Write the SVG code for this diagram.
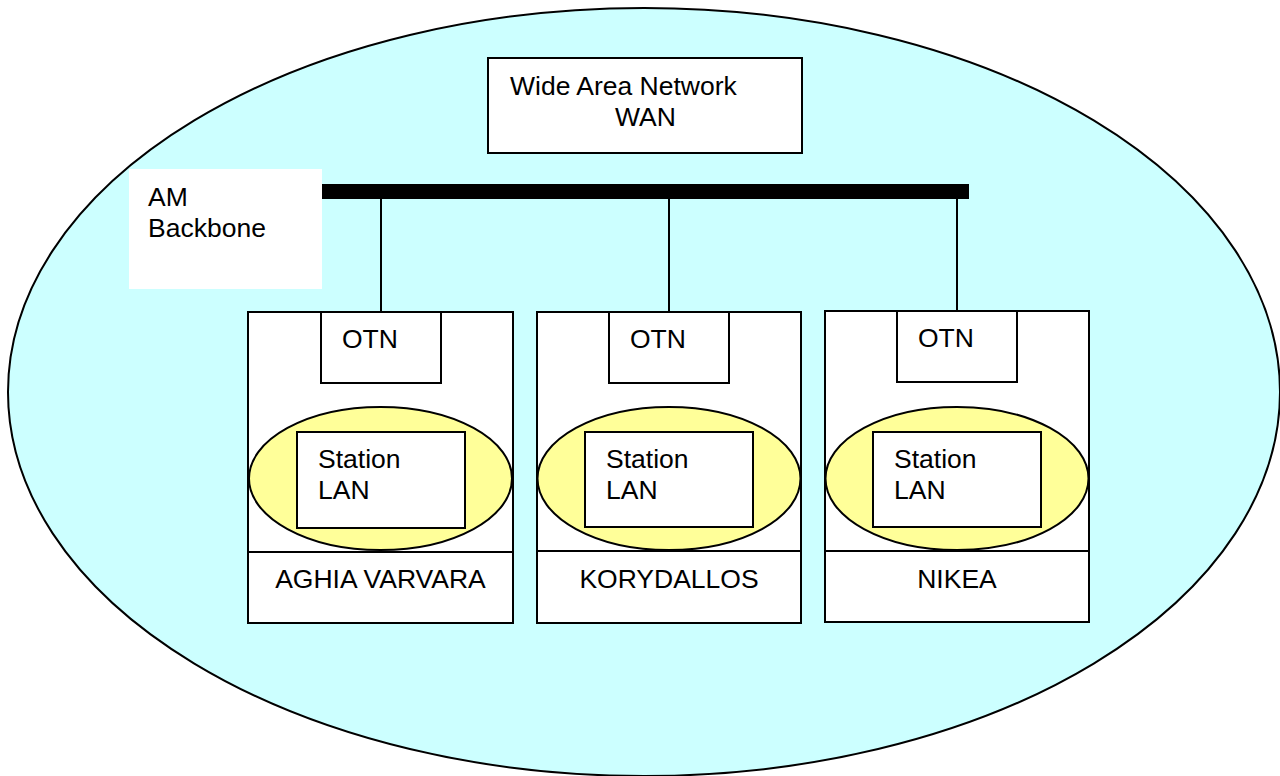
<svg xmlns="http://www.w3.org/2000/svg" width="1280" height="776" viewBox="0 0 1280 776">
<style>
text{font-family:"Liberation Sans",Arial,sans-serif;font-size:26.5px;fill:#000}
.box{fill:#fff;stroke:#000;stroke-width:2}
.lan{fill:#FFFF99;stroke:#000;stroke-width:2}
.ln{stroke:#000;stroke-width:2;fill:none}
.mid{text-anchor:middle}
</style>
<rect width="1280" height="776" fill="#fff"/>
<g id="network">
<ellipse cx="644" cy="392" rx="636" ry="384" fill="#CCFFFF" stroke="#000" stroke-width="2"/>
</g>
<g id="wan">
<rect class="box" x="488" y="58" width="314" height="95"/>
<text x="510" y="95">Wide Area Network</text>
<text x="615" y="126">WAN</text>
</g>
<g id="backbone-label">
<rect x="129" y="169" width="193" height="120" fill="#fff"/>
<text x="148" y="206">AM</text>
<text x="148" y="237">Backbone</text>
</g>
<g id="connectors">
<rect x="322" y="184" width="647" height="15" fill="#000"/>
<line class="ln" x1="381" y1="199" x2="381" y2="312"/>
<line class="ln" x1="669" y1="199" x2="669" y2="312"/>
<line class="ln" x1="957" y1="199" x2="957" y2="311"/>
<line class="ln" x1="381" y1="383" x2="381" y2="407"/>
<line class="ln" x1="669" y1="383" x2="669" y2="407"/>
<line class="ln" x1="957" y1="382" x2="957" y2="407"/>
</g>
<g id="site-aghia-varvara">
<rect class="box" x="248" y="312" width="265" height="311"/>
<line class="ln" x1="248" y1="552" x2="513" y2="552"/>
<rect class="box" x="321" y="312" width="120" height="71"/>
<text x="342" y="348">OTN</text>
<ellipse class="lan" cx="380.5" cy="478.5" rx="131.5" ry="71.5"/>
<rect class="box" x="297" y="432" width="168" height="96"/>
<text x="318" y="468">Station</text>
<text x="318" y="499">LAN</text>
<text class="mid" x="380.5" y="588">AGHIA VARVARA</text>
</g>
<g id="site-korydallos">
<rect class="box" x="537" y="312" width="264" height="311"/>
<line class="ln" x1="537" y1="551" x2="801" y2="551"/>
<rect class="box" x="609" y="312" width="120" height="71"/>
<text x="630" y="348">OTN</text>
<ellipse class="lan" cx="669" cy="478.5" rx="131.5" ry="71.5"/>
<rect class="box" x="585" y="432" width="168" height="95"/>
<text x="606" y="468">Station</text>
<text x="606" y="499">LAN</text>
<text class="mid" x="669" y="588">KORYDALLOS</text>
</g>
<g id="site-nikea">
<rect class="box" x="825" y="311" width="264" height="311"/>
<line class="ln" x1="825" y1="551" x2="1089" y2="551"/>
<rect class="box" x="897" y="311" width="120" height="71"/>
<text x="918" y="347">OTN</text>
<ellipse class="lan" cx="957" cy="478.5" rx="131.5" ry="71.5"/>
<rect class="box" x="873" y="432" width="168" height="95"/>
<text x="894" y="468">Station</text>
<text x="894" y="499">LAN</text>
<text class="mid" x="957" y="588">NIKEA</text>
</g>
</svg>
